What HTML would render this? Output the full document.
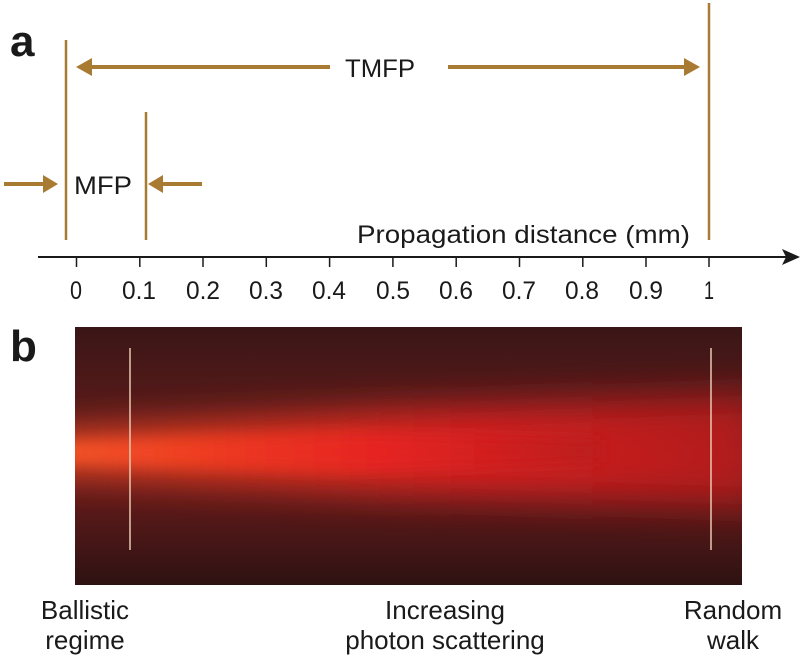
<!DOCTYPE html>
<html><head><meta charset="utf-8"><style>
html,body{margin:0;padding:0;background:#fff;}
svg{display:block;}
text{font-family:"Liberation Sans",sans-serif;fill:#1a1a1a;}
</style></head><body>
<svg width="800" height="660" viewBox="0 0 800 660" xmlns="http://www.w3.org/2000/svg">
<defs>
<linearGradient id="bg" x1="0" y1="0" x2="0" y2="1">
<stop offset="0" stop-color="#3a1616"/>
<stop offset="0.3" stop-color="#561a1a"/>
<stop offset="0.5" stop-color="#7a1c1c"/>
<stop offset="0.75" stop-color="#521818"/>
<stop offset="1" stop-color="#2e1212"/>
</linearGradient>
<linearGradient id="fade" x1="0" y1="0" x2="1" y2="0">
<stop offset="0" stop-color="#ff5a28"/>
<stop offset="0.3" stop-color="#f23a22"/>
<stop offset="0.6" stop-color="#e82222"/>
<stop offset="1" stop-color="#b81c1c"/>
</linearGradient>
<filter id="b1" x="-20%" y="-50%" width="140%" height="200%"><feGaussianBlur stdDeviation="18"/></filter>
<filter id="b2" x="-20%" y="-50%" width="140%" height="200%"><feGaussianBlur stdDeviation="7"/></filter>
<clipPath id="cp"><rect x="75" y="327" width="667" height="258"/></clipPath>
</defs>
<text x="10" y="56" style="font-weight:bold;font-size:44px">a</text>
<text x="10" y="361" style="font-weight:bold;font-size:44px">b</text>
<g stroke="#a87a32" stroke-width="2.5" fill="#a87a32">
<line x1="66" y1="40" x2="66" y2="240"/>
<line x1="146" y1="112" x2="146" y2="240"/>
<line x1="709" y1="3" x2="709" y2="240"/>
<line x1="88" y1="67" x2="330" y2="67" stroke-width="4"/>
<polygon points="76,67 92,58 92,76" stroke="none"/>
<line x1="448" y1="67" x2="688" y2="67" stroke-width="4"/>
<polygon points="700,67 684,58 684,76" stroke="none"/>
<line x1="4" y1="184" x2="46" y2="184" stroke-width="4"/>
<polygon points="58,184 43,175 43,193" stroke="none"/>
<line x1="160" y1="184" x2="202" y2="184" stroke-width="4"/>
<polygon points="148,184 163,175 163,193" stroke="none"/>
</g>
<text x="345" y="77" font-size="25" textLength="70" lengthAdjust="spacingAndGlyphs">TMFP</text>
<text x="74" y="194" font-size="25" textLength="58" lengthAdjust="spacingAndGlyphs">MFP</text>
<text x="357" y="243" font-size="25" textLength="333" lengthAdjust="spacingAndGlyphs">Propagation distance (mm)</text>
<line x1="38" y1="257" x2="788" y2="257" stroke="#1a1a1a" stroke-width="2"/>
<polygon points="800,257 782,249 786,257 782,265" fill="#1a1a1a"/>
<g stroke="#1a1a1a" stroke-width="1.5">
<line x1="76.5" y1="257" x2="76.5" y2="267"/><line x1="139.8" y1="257" x2="139.8" y2="267"/><line x1="203" y1="257" x2="203" y2="267"/><line x1="266.3" y1="257" x2="266.3" y2="267"/><line x1="329.6" y1="257" x2="329.6" y2="267"/><line x1="392.9" y1="257" x2="392.9" y2="267"/><line x1="456.2" y1="257" x2="456.2" y2="267"/><line x1="519.5" y1="257" x2="519.5" y2="267"/><line x1="582.8" y1="257" x2="582.8" y2="267"/><line x1="646" y1="257" x2="646" y2="267"/><line x1="709" y1="257" x2="709" y2="267"/>
</g>
<g font-size="25">
<text x="70" y="299" textLength="12" lengthAdjust="spacingAndGlyphs">0</text>
<text x="122" y="299" textLength="34" lengthAdjust="spacingAndGlyphs">0.1</text>
<text x="186" y="299" textLength="34" lengthAdjust="spacingAndGlyphs">0.2</text>
<text x="249" y="299" textLength="34" lengthAdjust="spacingAndGlyphs">0.3</text>
<text x="312" y="299" textLength="34" lengthAdjust="spacingAndGlyphs">0.4</text>
<text x="376" y="299" textLength="34" lengthAdjust="spacingAndGlyphs">0.5</text>
<text x="439" y="299" textLength="34" lengthAdjust="spacingAndGlyphs">0.6</text>
<text x="502" y="299" textLength="34" lengthAdjust="spacingAndGlyphs">0.7</text>
<text x="565" y="299" textLength="34" lengthAdjust="spacingAndGlyphs">0.8</text>
<text x="629" y="299" textLength="34" lengthAdjust="spacingAndGlyphs">0.9</text>
<text x="704" y="299" textLength="10" lengthAdjust="spacingAndGlyphs">1</text>
</g>
<rect x="75" y="327" width="667" height="258" fill="url(#bg)"/>
<g clip-path="url(#cp)">
<path d="M40,435 L400,410 L760,395 L760,505 L400,492 L40,470 Z" fill="url(#fade)" opacity="0.85" filter="url(#b1)"/>
<path d="M60,443 L350,432 L600,440 L600,462 L350,472 L60,462 Z" fill="url(#fade)" opacity="0.8" filter="url(#b2)"/>
</g>
<line x1="130" y1="348" x2="130" y2="550" stroke="#e8c8b0" stroke-width="1.5"/>
<line x1="711" y1="348" x2="711" y2="550" stroke="#e8c8b0" stroke-width="1.5"/>
<g font-size="26" text-anchor="middle">
<text x="85" y="619">Ballistic</text><text x="85" y="649">regime</text>
<text x="445" y="619">Increasing</text><text x="445" y="649">photon scattering</text>
<text x="733" y="619">Random</text><text x="733" y="649">walk</text>
</g>
</svg>
</body></html>
